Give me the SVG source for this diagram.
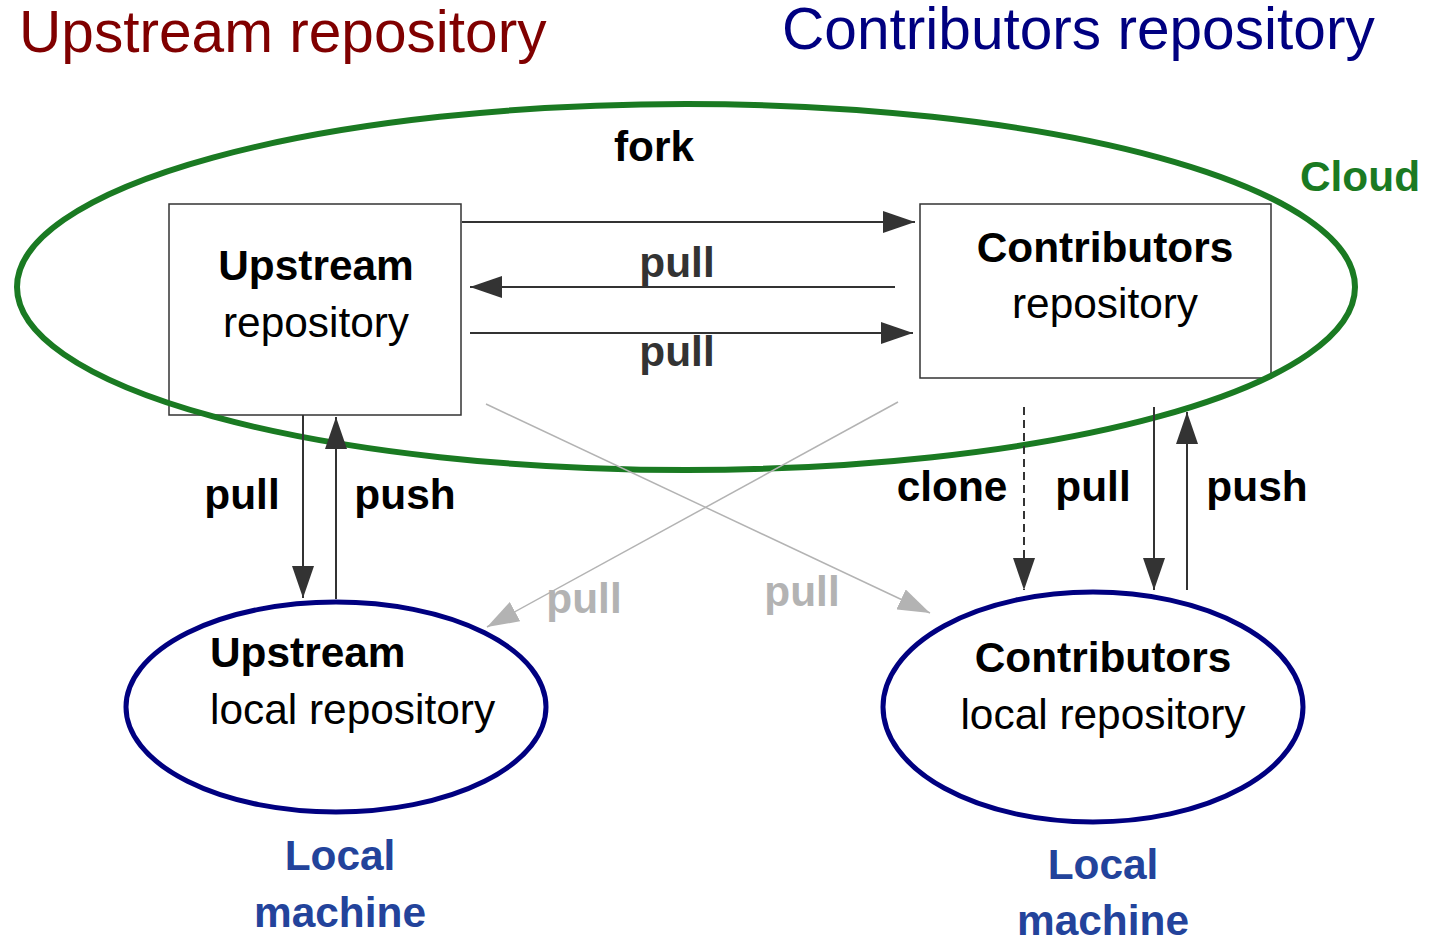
<svg xmlns="http://www.w3.org/2000/svg" width="1443" height="937" viewBox="0 0 1443 937">
<defs>
<style>
text{font-family:"Liberation Sans",Arial,sans-serif;font-size:42.4px}
.b{font-weight:bold}
.m{text-anchor:middle}
.title{font-size:58.6px}
.ln{stroke:#333;stroke-width:2;fill:none}
.gr{stroke:#b3b3b3;stroke-width:1.5;fill:none}
.box{fill:#fff;stroke:#333;stroke-width:1.5}
</style>
<marker id="ah" markerUnits="userSpaceOnUse" viewBox="0 0 32 22" refX="32" refY="11" markerWidth="32" markerHeight="22" orient="auto"><path d="M0,0L32,11L0,22z" fill="#333"/></marker>
<marker id="ahg" markerUnits="userSpaceOnUse" viewBox="0 0 32 22" refX="32" refY="11" markerWidth="32" markerHeight="22" orient="auto"><path d="M0,0L32,11L0,22z" fill="#b3b3b3"/></marker>
</defs>
<rect width="1443" height="937" fill="#fff"/>
<text x="19" y="52" class="title" fill="#800000">Upstream repository</text>
<text x="782" y="49" class="title" fill="#000080">Contributors repository</text>
<g id="upstream-repo">
<rect x="169" y="204" width="292" height="211" class="box"/>
<text x="316" y="280" class="b m">Upstream</text>
<text x="316" y="337" class="m">repository</text>
</g>
<g id="contrib-repo">
<rect x="920" y="204" width="351" height="174" class="box"/>
<text x="1105" y="262" class="b m">Contributors</text>
<text x="1105" y="318" class="m">repository</text>
</g>
<g id="cloud">
<ellipse cx="686" cy="287" rx="669" ry="183" fill="none" stroke="#1a7a22" stroke-width="6"/>
<text x="1360" y="191" class="b m" fill="#1a7a22">Cloud</text>
</g>
<g id="upstream-local">
<ellipse cx="336" cy="707" rx="210" ry="105" fill="none" stroke="#000080" stroke-width="5"/>
<text x="210" y="667" class="b">Upstream</text>
<text x="210" y="724" >local repository</text>
</g>
<g id="contrib-local">
<ellipse cx="1093" cy="707" rx="210" ry="115" fill="none" stroke="#000080" stroke-width="5"/>
<text x="1103" y="672" class="b m">Contributors</text>
<text x="1103" y="729" class="m">local repository</text>
</g>
<g id="local-machine-left">
<text x="340" y="870" class="b m" fill="#23439b">Local</text>
<text x="340" y="927" class="b m" fill="#23439b">machine</text>
</g>
<g id="local-machine-right">
<text x="1103" y="879" class="b m" fill="#23439b">Local</text>
<text x="1103" y="935" class="b m" fill="#23439b">machine</text>
</g>
<g id="connectors">
<line x1="462" y1="222" x2="915" y2="222" class="ln" marker-end="url(#ah)"/>
<line x1="895" y1="287" x2="470" y2="287" class="ln" marker-end="url(#ah)"/>
<line x1="470" y1="333" x2="913" y2="333" class="ln" marker-end="url(#ah)"/>
<line x1="303" y1="415" x2="303" y2="598" class="ln" marker-end="url(#ah)"/>
<line x1="336" y1="599" x2="336" y2="417" class="ln" marker-end="url(#ah)"/>
<line x1="1024" y1="407" x2="1024" y2="590" class="ln" stroke-dasharray="8,5" marker-end="url(#ah)"/>
<line x1="1154" y1="407" x2="1154" y2="590" class="ln" marker-end="url(#ah)"/>
<line x1="1187" y1="590" x2="1187" y2="412" class="ln" marker-end="url(#ah)"/>
<line x1="486" y1="404" x2="930" y2="613" class="gr" marker-end="url(#ahg)"/>
<line x1="898" y1="402" x2="487" y2="627" class="gr" marker-end="url(#ahg)"/>
<text x="654" y="161" class="b m">fork</text>
<text x="677" y="277" class="b m" fill="#333">pull</text>
<text x="677" y="366" class="b m" fill="#333">pull</text>
<text x="242" y="509" class="b m">pull</text>
<text x="405" y="509" class="b m">push</text>
<text x="952" y="501" class="b m">clone</text>
<text x="1093" y="501" class="b m">pull</text>
<text x="1257" y="501" class="b m">push</text>
<text x="584" y="613" class="b m" fill="#b3b3b3">pull</text>
<text x="802" y="606" class="b m" fill="#b3b3b3">pull</text>
</g>
</svg>
